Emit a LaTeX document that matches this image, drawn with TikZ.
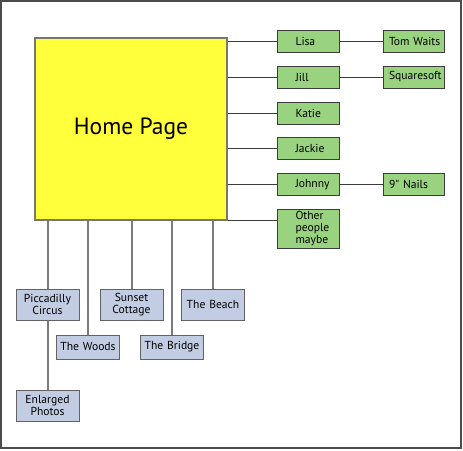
\documentclass[tikz,border=0pt]{standalone}
\usepackage{fontspec}
\setmainfont{PT Sans}
\newfontfamily\plainsans{PT Sans}
\usetikzlibrary{positioning}
\definecolor{pageYellow}{HTML}{FFFF3C}
\definecolor{pageBorder}{HTML}{77776C}
\definecolor{personGreen}{HTML}{9AD37F}
\definecolor{placeBlue}{HTML}{C2CCE3}
\definecolor{lineDark}{HTML}{3C3C3C}
\definecolor{stemGray}{HTML}{7B7B7B}
\tikzset{
  home/.style={draw=pageBorder, fill=pageYellow, line width=1.5pt,
    minimum width=192pt, minimum height=182pt,
    font=\fontsize{23.5}{27}\selectfont},
  person/.style={draw=lineDark, fill=personGreen, line width=1pt,
    minimum width=62pt, minimum height=22pt, inner xsep=0pt, inner ysep=1pt,
    text width=45pt, align=left, execute at begin node={\leftskip=10pt},
    font=\fontsize{11.6}{12}\selectfont},
  extra/.style={person, minimum width=61pt, text width=55pt,
    execute at begin node={\leftskip=3pt}},
  place/.style={draw=lineDark!80, fill=placeBlue, line width=1pt,
    minimum width=63pt, minimum height=31pt, inner sep=1pt,
    text width=61pt, align=center, font=\fontsize{11.6}{12}\selectfont},
  link/.style={draw=lineDark, line width=0.9pt},
  stem/.style={draw=stemGray, line width=2pt}
}
\begin{document}
\begin{tikzpicture}[x=1pt,y=-1pt]
  \useasboundingbox (0,0) rectangle (463,450);
  \draw[draw=gray!60!black, line width=1.5pt] (1,1) rectangle (461,448);

  % home page
  \node[home] (home) at (131,129) {Home Page};

  % people
  \node[person] (lisa) at (308,41) {Lisa};
  \node[person] (jill) at (308,77) {Jill};
  \node[person] (katie) at (308,113) {Katie};
  \node[person] (jackie) at (308,148.5) {Jackie};
  \node[person] (johnny) at (308,184.5) {Johnny};
  \node[person, minimum height=39pt] (other) at (308,228.5) {Other\\people\\maybe};

  \node[extra, right=43pt of lisa] (tomwaits) {Tom Waits};
  \node[extra, right=43pt of jill] (squaresoft) {Squaresoft};
  \node[extra, right=43pt of johnny] (nails) {9{\plainsans"} Nails};

  % places
  \node[place] (piccadilly) at (47.5,304.5) {Piccadilly\\Circus};
  \node[place, minimum height=24pt] (woods) at (88,347) {The Woods};
  \node[place] (sunset) at (131.5,304.5) {Sunset\\Cottage};
  \node[place, minimum height=24pt] (bridge) at (172,347) {The Bridge};
  \node[place] (beach) at (213,304.5) {The Beach};
  \node[place] (photos) at (47.5,405.5) {Enlarged\\Photos};

  % connectors
  \foreach \p in {lisa,jill,katie,jackie,johnny}
    \draw[link] (home.east |- \p.west) -- (\p.west);
  \draw[link] (home.south east) -- (home.south east -| other.west);
  \draw[link] (lisa) -- (tomwaits);
  \draw[link] (jill) -- (squaresoft);
  \draw[link] (johnny) -- (nails);

  \foreach \p in {piccadilly,woods,sunset,bridge,beach}
    \draw[stem] (home.south -| \p.north) -- (\p.north);
  \draw[stem] (piccadilly) -- (photos);
\end{tikzpicture}
\end{document}
